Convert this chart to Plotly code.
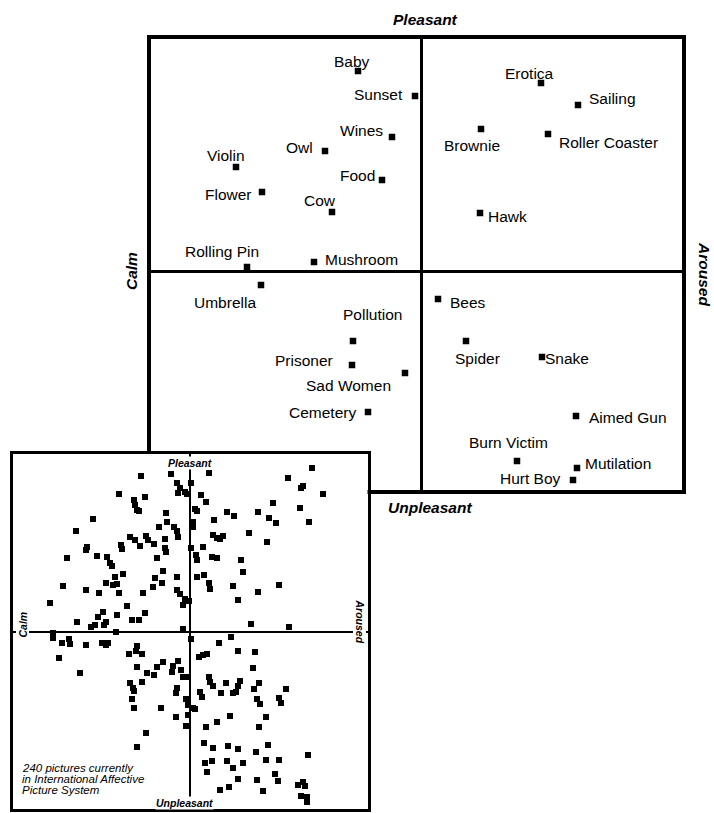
import plotly.graph_objects as go

# ---------------- data: main chart (arousal = x, valence = y; 0 = neutral) ----
labels = ["Baby", "Sunset", "Erotica", "Sailing", "Brownie", "Roller Coaster",
          "Wines", "Owl", "Violin", "Food", "Flower", "Cow", "Hawk",
          "Rolling Pin", "Mushroom", "Umbrella", "Bees", "Pollution", "Spider",
          "Snake", "Prisoner", "Sad Women", "Cemetery", "Aimed Gun",
          "Burn Victim", "Mutilation", "Hurt Boy"]
arousal = [-63, -6, 120, 157, 60, 127, -29, -96, -185, -39, -159, -89, 59,
           -174, -107, -160, 17, -68, 45, 121, -69, -16, -53, 155, 96, 156, 152]
valence = [200, 175, 188, 166, 142, 137, 134, 120, 104, 91, 79, 59, 58,
           4, 9, -14, -28, -70, -70, -86, -94, -102, -141, -145, -190, -197, -209]

# ---------------- data: inset (240 IAPS pictures) ----------------------------
iaps_arousal = [
    -49, -19, -13, -10, -12, -5, -3, -71, -45, -56, -55, -53, -51, -24, -97, -23,
    -31, -16, -13, -12, -114, -60, -55, -44, -42, -25, -69, -68, -50, -36, -103,
    -104, -25, -24, -123, -93, -83, -80, -78, -33, -27, -67, -13, -75, -77, -73,
    -71, -84, -35, -28, -127, -104, -37, -91, -47, -13, -10, -5, -1, -7, -140,
    -63, -87, -92, -84, -99, -95, -73, -45, -51, -58, -113, -86, -74, -137, -137,
    -128, -121, -120, -104, -88, -84, -82, -53, -54, -61, -48, -131, -27, -53,
    -33, -36, -43, -12, -17, -18, -110, -60, -57, -56, -48, -13, -14, -58, -56,
    -29, -14, -44, -53, -9, -7, -4,
    19, 1, 11, 16, 98, 122, 111, 113, 133, 83, 110, 5, 7, 37, 44, 68, 24, 79, 86,
    119, 3, 3, 23, 27, 30, 33, 59, 77, 1, 13, 6, 7, 22, 27, 51, 53, 7, 14, 19, 20,
    43, 68, 89, 48, 61, 99, -7, 1, 41, 29, 48, 65, 9, 13, 17, 63, 19, 20, 23, 36,
    50, 48, 46, 43, 69, 64, 96, 31, 10, 12, -4, -2, 3, 5, 67, 70, 89, 91, -2, 40,
    76, 27, 16, -4, 69, 14, 23, 38, 48, 66, 78, 118, 15, 22, 17, 37, 43, 53, 76,
    89, 85, 88, 48, 67, 30, 39, 73, 108, 113, 115, 111, 117, 117]
iaps_valence = [
    156, 158, 149, 144, 139, 140, 138, 138, 135, 132, 127, 122, 121, 119, 113, 110,
    105, 105, 101, 95, 101, 95, 92, 96, 92, 93, 87, 83, 86, 88, 85, 82, 84, 80, 74,
    76, 75, 69, 66, 74, 61, 58, 55, 55, 47, 48, 39, 49, 54, 49, 46, 42, 45, 39,
    39, 42, 38, 33, 31, 27, 29, 26, 20, 15, 10, 5, 7, 17, 19, 12, 12, 10, 7, 0,
    -1, -6, -11, -7, -12, -13, -11, -13, -11, -14, -19, -22, -22, -26, -30, -35,
    -35, -43, -41, -29, -34, -40, -41, -51, -56, -59, -50, -56, -61, -67, -76,
    -76, -85, -101, -115, -38, -45, -45,
    159, 149, 137, 130, 154, 164, 144, 146, 138, 129, 124, 123, 121, 120, 116,
    120, 112, 114, 109, 110, 110, 105, 97, 94, 93, 96, 99, 90, 84, 85, 77, 72, 75,
    74, 72, 60, 55, 57, 49, 43, 46, 40, 47, 32, 8, 5, 3, -7, -5, -11, -19, -20,
    -25, -23, -22, -36, -45, -50, -54, -51, -49, -54, -60, -61, -51, -57, -57,
    -61, -60, -65, -67, -73, -76, -77, -67, -72, -66, -71, -83, -84, -85, -90,
    -95, -94, -95, -111, -116, -114, -117, -120, -113, -123, -131, -129, -140,
    -129, -136, -131, -128, -128, -142, -149, -147, -148, -158, -155, -159,
    -153, -150, -154, -164, -165, -170]

# label placement (pixel offsets from each marker: dx right, dy down)
label_offsets = {
    "Baby": (-6, -10), "Sunset": (-37, -2), "Erotica": (-12, -10),
    "Sailing": (34, -7), "Brownie": (-9, 16), "Roller Coaster": (60, 8),
    "Wines": (-31, -7), "Owl": (-26, -4), "Violin": (-10, -12),
    "Food": (-25, -5), "Flower": (-34, 2), "Cow": (-12, -12),
    "Hawk": (27, 3), "Rolling Pin": (-25, -16), "Mushroom": (47, -3),
    "Umbrella": (-36, 17), "Bees": (30, 3), "Pollution": (19, -27),
    "Spider": (11, 17), "Snake": (25, 1), "Prisoner": (-48, -5),
    "Sad Women": (-57, 12), "Cemetery": (-46, 0), "Aimed Gun": (52, 1),
    "Burn Victim": (-9, -19), "Mutilation": (41, -5), "Hurt Boy": (-43, -2),
}

W, H = 714, 813
FONT = "Liberation Sans, Arial, Helvetica, sans-serif"


def fx(p):
    return p / W


def fy(p):
    return 1 - p / H


fig = go.Figure()
fig.add_trace(go.Scatter(
    x=arousal, y=valence, mode="markers", xaxis="x", yaxis="y",
    marker=dict(symbol="square", size=6.5, color="black", line=dict(width=0)),
    hoverinfo="text", text=labels, showlegend=False))
fig.add_trace(go.Scatter(
    x=iaps_arousal, y=iaps_valence, mode="markers", xaxis="x2", yaxis="y2",
    marker=dict(symbol="square", size=6, color="black", line=dict(width=0)),
    showlegend=False))

ax_common = dict(showticklabels=False, ticks="", showgrid=False,
                 zeroline=True, zerolinecolor="black", showline=True,
                 linecolor="black", mirror=True, fixedrange=True)

fig.update_layout(
    width=W, height=H, margin=dict(l=0, r=0, t=0, b=0),
    paper_bgcolor="white", plot_bgcolor="white",
    font=dict(family=FONT, color="black"),
    xaxis=dict(domain=[fx(151), fx(682)], range=[-270, 261], anchor="y",
               zerolinewidth=3, linewidth=4, **ax_common),
    yaxis=dict(domain=[fy(490), fy(39)], range=[-219, 232], anchor="x",
               zerolinewidth=3, linewidth=4, **ax_common),
    xaxis2=dict(domain=[fx(12.5), fx(367.5)], range=[-177.5, 177.5],
                anchor="y2", zerolinewidth=2, linewidth=3, **ax_common),
    yaxis2=dict(domain=[fy(808.5), fy(453.5)], range=[-176.5, 178.5],
                anchor="x2", zerolinewidth=2, linewidth=3, **ax_common),
)

ann = []
for name, xa, ya in zip(labels, arousal, valence):
    dx, dy = label_offsets[name]
    ann.append(dict(x=xa, y=ya, xref="x", yref="y", text=name,
                    showarrow=False, xshift=dx, yshift=-dy,
                    xanchor="center", yanchor="middle",
                    font=dict(size=15.5, family=FONT, color="black")))

big = dict(size=15.5, family=FONT, color="black")
mid = dict(showarrow=False, xanchor="center", yanchor="middle")
ann += [
    dict(x=0, y=1, xref="x", yref="y domain", text="<b><i>Pleasant</i></b>",
         xshift=4, yshift=20, font=big, **mid),
    dict(x=0, y=0, xref="x", yref="y domain", text="<b><i>Unpleasant</i></b>",
         xshift=9, yshift=-17, font=big, **mid),
    dict(x=0, y=0, xref="x domain", yref="y", text="<b><i>Calm</i></b>",
         textangle=-90, xshift=-20, font=big, **mid),
    dict(x=1, y=0, xref="x domain", yref="y", text="<b><i>Aroused</i></b>",
         textangle=90, xshift=23, yshift=-3, font=big, **mid),
]

small = dict(size=10.5, family=FONT, color="black")
ann += [
    dict(x=0, y=1, xref="x2", yref="y2 domain", text="<b><i>Pleasant</i></b>",
         yshift=-9, font=small, bgcolor="white", borderpad=0, **mid),
    dict(x=0, y=0, xref="x2", yref="y2 domain", text="<b><i>Unpleasant</i></b>",
         xshift=-6, yshift=6, font=small, bgcolor="white", borderpad=0, **mid),
    dict(x=0, y=0, xref="x2 domain", yref="y2", text="<b><i>Calm</i></b>",
         textangle=-90, xshift=10, yshift=7, font=small, bgcolor="white",
         borderpad=0, **mid),
    dict(x=1, y=0, xref="x2 domain", yref="y2", text="<b><i>Aroused</i></b>",
         textangle=90, xshift=-8, yshift=10, font=small, bgcolor="white",
         borderpad=0, **mid),
]

note_lines = ["240 pictures currently", "in International Affective",
              "Picture System"]
note_shifts = [40.5, 29.5, 18.5]
for line, ys in zip(note_lines, note_shifts):
    ann.append(dict(x=0, y=0, xref="x2 domain", yref="y2 domain",
                    text="<i>" + line + "</i>", showarrow=False,
                    xanchor="left", yanchor="middle", xshift=7, yshift=ys,
                    font=dict(size=11.5, family=FONT, color="black")))

fig.update_layout(annotations=ann)
fig.write_html("out.html", config={"displayModeBar": False},
               post_script="document.body.style.margin='0';"
                           "document.body.style.overflow='hidden';")
